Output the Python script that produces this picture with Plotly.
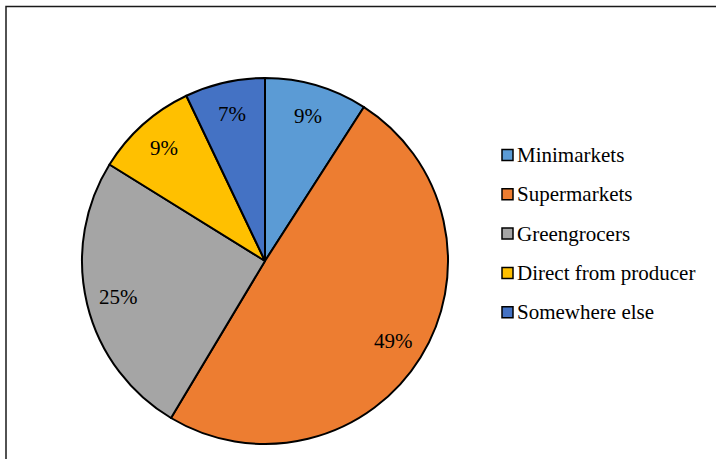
import math
import plotly.graph_objects as go

W, H = 716, 459

labels = ["Minimarkets", "Supermarkets", "Greengrocers", "Direct from producer", "Somewhere else"]
values = [9, 49, 25, 9, 7]
colors = ["#5B9BD5", "#ED7D31", "#A5A5A5", "#FFC000", "#4472C4"]

FONT = "Liberation Serif, Times New Roman, serif"

def px(x):
    return x / W

def py(y):
    return 1 - y / H

CX, CY, R = 265, 261, 183
fig = go.Figure()
fig.add_trace(go.Pie(
    labels=labels,
    values=values,
    sort=False,
    direction="clockwise",
    rotation=0,
    marker=dict(colors=colors, line=dict(color="#000000", width=2)),
    textinfo="none",
    showlegend=False,
    hoverinfo="label+value",
    domain=dict(x=[px(CX - R), px(CX + R)], y=[py(CY + R), py(CY - R)]),
))

shapes = [dict(type="rect", xref="paper", yref="paper",
               x0=px(6), x1=px(W + 20), y0=py(H + 20), y1=py(6.5),
               line=dict(color="#1a1a1a", width=1.5), fillcolor="rgba(0,0,0,0)")]
annotations = []

# slice value labels placed at the mid-angle of each slice
total = sum(values)
cum = 0
LR = 151
for v in values:
    ang = math.radians((cum + v / 2) / total * 360)
    cum += v
    annotations.append(dict(xref="paper", yref="paper",
                            x=px(CX + LR * math.sin(ang)), y=py(CY - LR * math.cos(ang)),
                            xanchor="center", yanchor="middle", showarrow=False,
                            text=f"{v}%", font=dict(family=FONT, size=21, color="#000000")))

y0, step = 155, 39.3
for i, (lab, col) in enumerate(zip(labels, colors)):
    yc = y0 + i * step
    shapes.append(dict(type="rect", xref="paper", yref="paper",
                       x0=px(502), x1=px(513), y0=py(yc + 5.5), y1=py(yc - 5.5),
                       line=dict(color="#000000", width=1.5), fillcolor=col))
    annotations.append(dict(xref="paper", yref="paper", x=px(515), y=py(yc),
                            xanchor="left", yanchor="middle", showarrow=False,
                            text=lab, font=dict(family=FONT, size=21, color="#000000")))

fig.update_layout(
    width=W, height=H,
    margin=dict(l=0, r=0, t=0, b=0),
    paper_bgcolor="#ffffff",
    plot_bgcolor="#ffffff",
    shapes=shapes,
    annotations=annotations,
)

fig.write_html("out.html")
